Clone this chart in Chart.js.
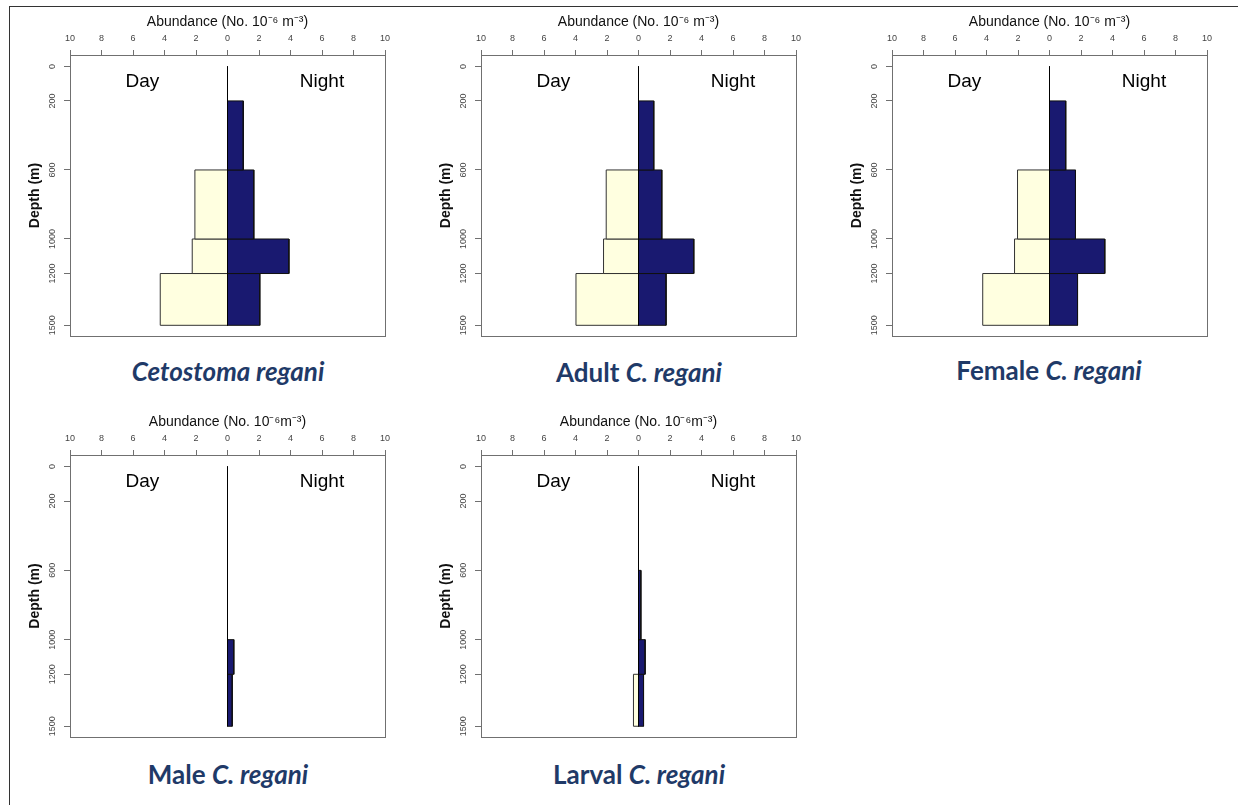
<!DOCTYPE html>
<html>
<head>
<meta charset="utf-8">
<script src="https://cdn.jsdelivr.net/npm/chart.js@4.4.1/dist/chart.umd.min.js"></script>
<style>
  html, body { margin: 0; padding: 0; background: #fff; }
  body { width: 1238px; height: 805px; position: relative; overflow: hidden; font-family: "Liberation Sans", Arial, sans-serif; }
  .frame { position: absolute; left: 9px; top: 6px; width: 1400px; height: 1000px; border-left: 1px solid #333; border-top: 1px solid #333; }
  canvas { position: absolute; }
  .species { position: absolute; transform: translate(-50%, -50%); font-family: Lato, "Open Sans", sans-serif; font-weight: 700; font-size: 26px; color: #1f3a68; white-space: nowrap; }
</style>
</head>
<body>
<div class="frame"></div>

<canvas id="cetostoma" width="390" height="338" style="left:10px;top:8px"></canvas>
<canvas id="adult"     width="390" height="338" style="left:421px;top:8px"></canvas>
<canvas id="female"    width="390" height="338" style="left:832px;top:8px"></canvas>
<canvas id="male"      width="390" height="339" style="left:10px;top:408px"></canvas>
<canvas id="larval"    width="390" height="339" style="left:421px;top:408px"></canvas>

<div class="species" style="left:228px;top:371px"><i>Cetostoma regani</i></div>
<div class="species" style="left:639px;top:372px">Adult <i>C. regani</i></div>
<div class="species" style="left:1049px;top:370px">Female <i>C. regani</i></div>
<div class="species" style="left:228px;top:774px">Male <i>C. regani</i></div>
<div class="species" style="left:639px;top:774px">Larval <i>C. regani</i></div>

<script>
// Depth strata (m): bin edges, and the depths marked on the axis
const depthEdges = [0, 200, 600, 1000, 1200, 1500];
const depthTicks = [0, 200, 600, 1000, 1200, 1500];
// Abundance axis ticks (day to the left, night to the right)
const abundanceTicks = [-10, -8, -6, -4, -2, 0, 2, 4, 6, 8, 10];

// Abundance (No. 10^-6 m^-3) per depth stratum: 0-200, 200-600, 600-1000, 1000-1200, 1200-1500
const cetostomaDay   = [0, 0, 2.07, 2.24, 4.27];
const cetostomaNight = [0, 1.00, 1.67, 3.90, 2.05];
const adultDay       = [0, 0, 2.05, 2.22, 3.97];
const adultNight     = [0, 0.97, 1.48, 3.51, 1.75];
const femaleDay      = [0, 0, 2.03, 2.22, 4.24];
const femaleNight    = [0, 1.03, 1.65, 3.51, 1.78];
const maleDay        = [0, 0, 0, 0, 0];
const maleNight      = [0, 0, 0, 0.40, 0.30];
const larvalDay      = [0, 0, 0, 0, 0.32];
const larvalNight    = [0, 0, 0.15, 0.42, 0.32];

const unitTop    = 'Abundance (No. 10⁻⁶ m⁻³)';
const unitBottom = 'Abundance (No. 10⁻⁶m⁻³)';

const NIGHT_FILL = '#191970';
const DAY_FILL = '#ffffe0';
const FRAME_GREY = '#707070';

// closed outline of one stratum bar, in data units
function stratumOutline(x0, x1, d0, d1) {
  return [{x: x0, y: d0}, {x: x1, y: d0}, {x: x1, y: d1}, {x: x0, y: d1}, {x: x0, y: d0}];
}

function buildDatasets(day, night) {
  const sets = [{
    data: [{x: 0, y: depthEdges[0]}, {x: 0, y: depthEdges[depthEdges.length - 1]}],
    borderColor: '#000', borderWidth: 1, fill: false
  }];
  for (let i = 0; i < depthEdges.length - 1; i++) {
    if (night[i] > 0) {
      sets.push({
        data: stratumOutline(0, night[i], depthEdges[i], depthEdges[i + 1]),
        borderColor: '#111', borderWidth: 1, backgroundColor: NIGHT_FILL, fill: 'shape'
      });
    }
    if (day[i] > 0) {
      sets.push({
        data: stratumOutline(-day[i], 0, depthEdges[i], depthEdges[i + 1]),
        borderColor: '#333', borderWidth: 1, backgroundColor: DAY_FILL, fill: 'shape'
      });
    }
  }
  return sets;
}

// full box round the plotting region
const plotBox = {
  id: 'plotBox',
  afterDraw(chart) {
    const {ctx, chartArea: a} = chart;
    ctx.save();
    ctx.strokeStyle = FRAME_GREY;
    ctx.lineWidth = 1;
    ctx.strokeRect(Math.round(a.left) + 0.5, Math.round(a.top) + 0.5,
                   Math.round(a.right - a.left), Math.round(a.bottom - a.top));
    ctx.restore();
  }
};

// "Day" / "Night" captions inside each panel
const dayNightCaptions = {
  id: 'dayNightCaptions',
  afterDatasetsDraw(chart) {
    const {ctx, scales: {x, y}} = chart;
    ctx.save();
    ctx.font = '19px "Liberation Sans", Arial, sans-serif';
    ctx.fillStyle = '#000';
    ctx.textAlign = 'center';
    ctx.textBaseline = 'middle';
    ctx.fillText('Day', x.getPixelForValue(-5.4), y.getPixelForValue(90));
    ctx.fillText('Night', x.getPixelForValue(6), y.getPixelForValue(90));
    ctx.restore();
  }
};

function drawProfile(id, day, night, unit) {
  new Chart(document.getElementById(id), {
    type: 'line',
    data: {datasets: buildDatasets(day, night)},
    options: {
      responsive: false,
      animation: false,
      events: [],
      layout: {padding: {left: 12.6, top: 5.3, right: 15, bottom: 10}},
      plugins: {legend: {display: false}, tooltip: {enabled: false}},
      elements: {point: {radius: 0}, line: {tension: 0}},
      scales: {
        x: {
          type: 'linear', position: 'top', min: -10, max: 10,
          afterBuildTicks: s => { s.ticks = abundanceTicks.map(v => ({value: v})); },
          afterFit: s => { s.height = 41.7; },
          ticks: {
            callback: v => String(Math.abs(v)),
            font: {size: 9}, color: '#444', padding: 6,
            maxRotation: 0, autoSkip: false
          },
          grid: {drawOnChartArea: false, tickLength: 5, color: FRAME_GREY},
          border: {color: FRAME_GREY},
          title: {display: true, text: unit, font: {size: 14}, color: '#111', padding: {top: 0, bottom: 0}}
        },
        y: {
          type: 'linear', position: 'left', reverse: true, min: -66, max: 1562,
          afterBuildTicks: s => { s.ticks = depthTicks.map(v => ({value: v})); },
          afterFit: s => { s.width = 47.4; },
          ticks: {
            callback: v => String(v),
            font: {size: 9}, color: '#444', padding: 1.5,
            minRotation: 90, maxRotation: 90, crossAlign: 'center', autoSkip: false
          },
          grid: {drawOnChartArea: false, tickLength: 6, color: FRAME_GREY},
          border: {color: FRAME_GREY},
          title: {display: true, text: 'Depth (m)', font: {size: 14, weight: 'bold'}, color: '#111', padding: {top: 4, bottom: 0}}
        }
      }
    },
    plugins: [plotBox, dayNightCaptions]
  });
}

Chart.defaults.font.family = '"Liberation Sans", Arial, sans-serif';

drawProfile('cetostoma', cetostomaDay, cetostomaNight, unitTop);
drawProfile('adult', adultDay, adultNight, unitTop);
drawProfile('female', femaleDay, femaleNight, unitTop);
drawProfile('male', maleDay, maleNight, unitBottom);
drawProfile('larval', larvalDay, larvalNight, unitBottom);
</script>
</body>
</html>
